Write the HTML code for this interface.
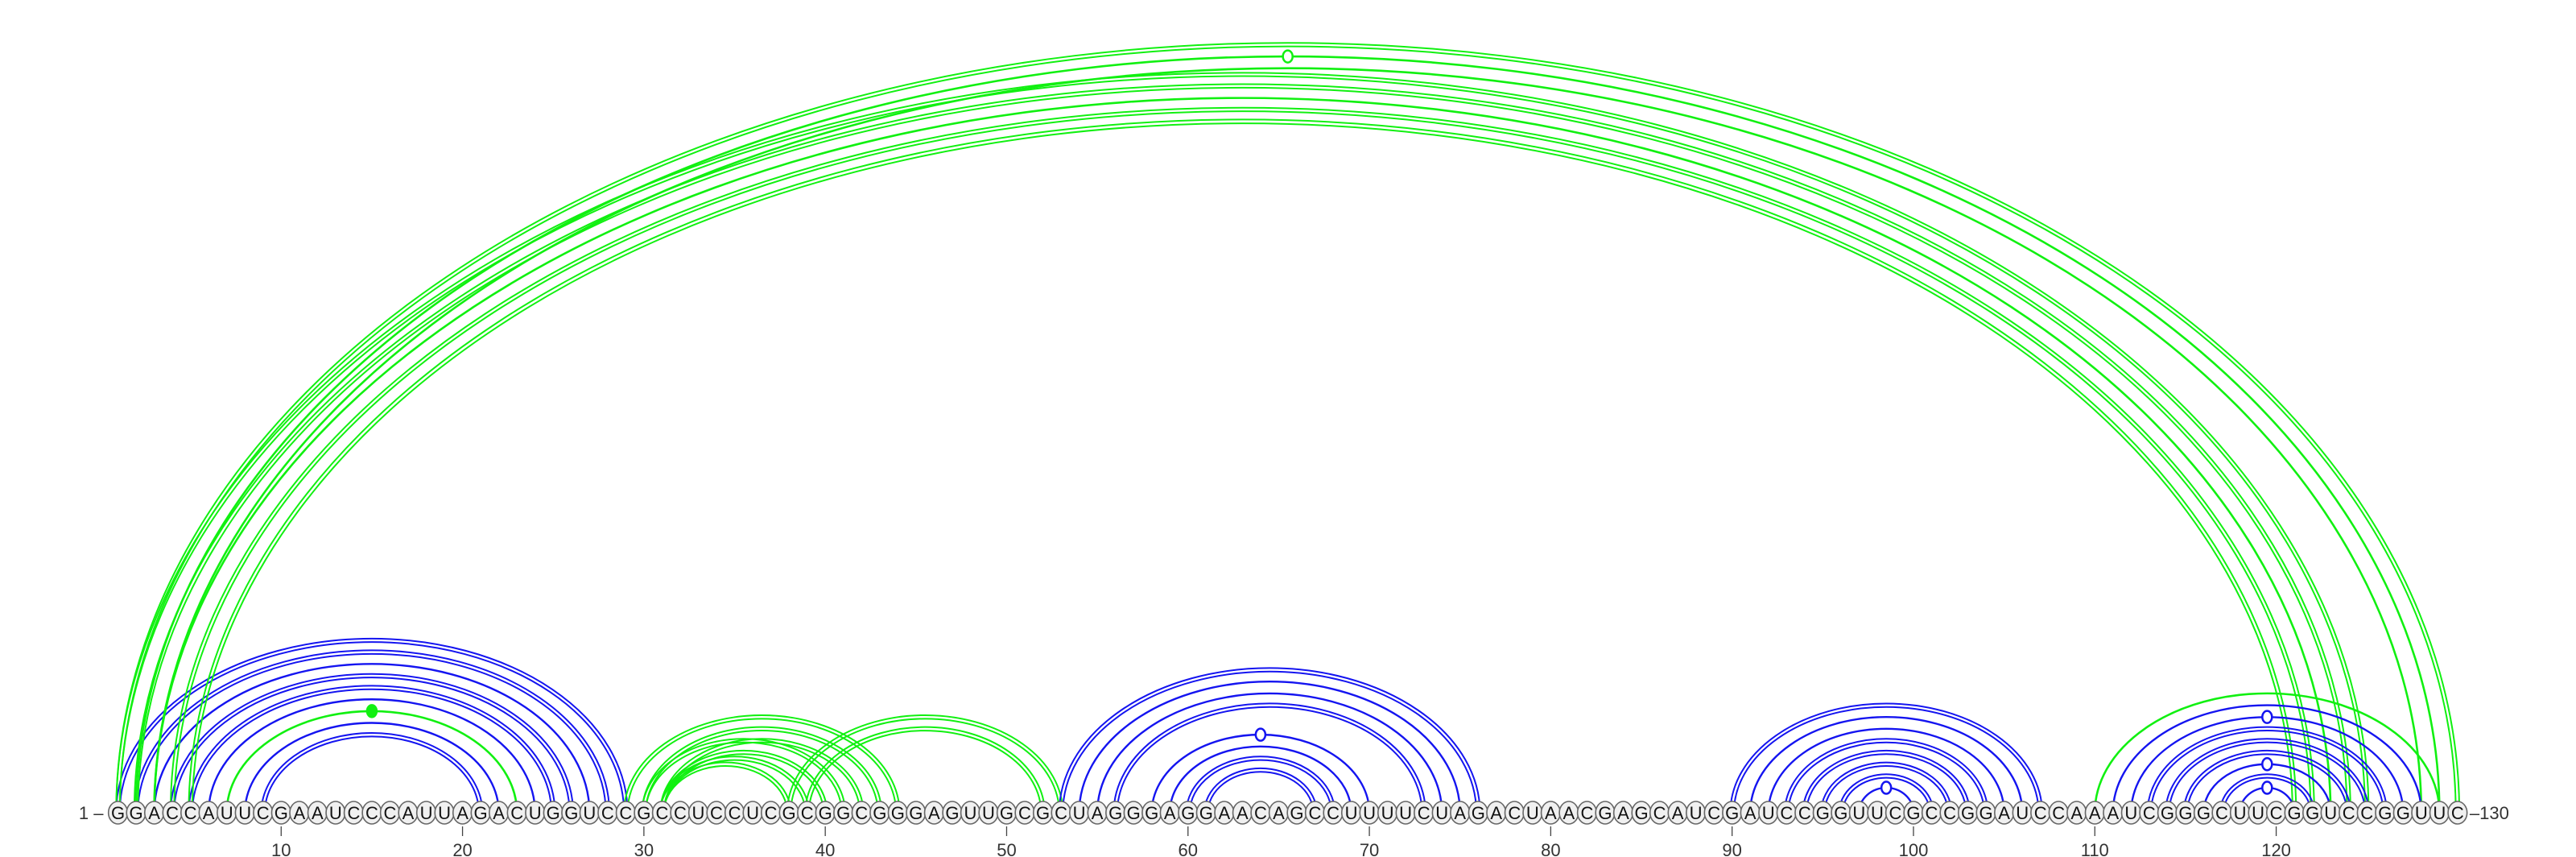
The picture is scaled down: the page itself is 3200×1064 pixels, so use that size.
<!DOCTYPE html>
<html>
<head>
<meta charset="utf-8">
<style>
  html,body{margin:0;padding:0;background:#fff;}
  svg{display:block;}
  text{font-family:"Liberation Sans",sans-serif;}
</style>
</head>
<body>
<svg id="chart" width="3200" height="1064" viewBox="0 0 3200 1064" xmlns="http://www.w3.org/2000/svg">
  <g id="arcs"></g>
  <g id="residues"></g>
  <g id="axis"></g>
</svg>
<script>
const sequence = "GGACCAUUCGAAUCCCAUUAGACUGGUCCGCCUCCUCGCGGCGGGAGUUGCGCUAGGGAGGAACAGCCUUUUCUAGACUAACGAGCAUCGAUCCGGUUCGCCGGAUCCAAAUCGGGCUUCGGUCCGGUUC";
// base pairs: i, j, color (b=blue, g=green), doubled line, marker (0 none,1 open,2 filled)
const pairI   = [1,2,3,4,5,6,7,8,9, 1,2,3,1,2,3,4,5, 29,30,31,30,31,31,31,38,39, 53,54,55,56,58,59,60,61, 90,91,92,93,94,95,96,97, 111,112,113,114,115,116,117,118, 110];
const pairJ   = [29,28,27,26,25,24,23,22,21, 130,129,128,125,124,123,122,121, 44,43,42,41,40,39,38,53,52, 76,75,74,73,70,69,68,67, 107,106,105,104,103,102,101,100, 128,127,126,125,124,123,122,121, 129];
const pairCol = ["b","b","b","b","b","b","g","b","b", "g","g","g","g","g","g","g","g", "g","g","g","g","g","g","g","g","g", "b","b","b","b","b","b","b","b", "b","b","b","b","b","b","b","b", "b","b","b","b","b","b","b","b", "g"];
const pairDbl = [1,1,0,1,1,0,0,0,1, 1,0,0,1,1,0,1,1, 1,1,1,1,1,1,1,1,1, 1,0,0,1,0,0,1,1, 1,0,0,1,1,1,1,0, 0,0,1,1,1,0,1,0, 0];
const pairMark= [0,0,0,0,0,0,2,0,0, 0,1,0,0,0,0,0,0, 0,0,0,0,0,0,0,0,0, 0,0,0,0,1,0,0,0, 0,0,0,0,0,0,0,1, 0,1,0,0,0,1,0,1, 0];
const tickValues = [10,20,30,40,50,60,70,80,90,100,110,120];

const X0 = 146.5, STEP = 22.53, BASE = 1009;
function xPos(i){ return X0 + (i-1)*STEP; }
function arcH(r){ return 0.65*r + 9; }
const COLORS = {b:"#1414f0", g:"#11f011"};
const NS = "http://www.w3.org/2000/svg";
const arcs = document.getElementById("arcs");
const res = document.getElementById("residues");
const axis = document.getElementById("axis");

function arcPath(x1,x2,rx,ry){
  return `M${x1},${BASE} A${rx},${ry} 0 0 1 ${x2},${BASE}`;
}

for (let k=0;k<pairI.length;k++){
  const x1 = xPos(pairI[k]), x2 = xPos(pairJ[k]);
  const r = (x2-x1)/2, h = arcH(r);
  const col = COLORS[pairCol[k]];
  const offs = pairDbl[k] ? [-2.2,2.2] : [0];
  for (const o of offs){
    const p = document.createElementNS(NS,"path");
    p.setAttribute("d", arcPath(x1-o, x2+o, r+o, h+o));
    p.setAttribute("fill","none");
    p.setAttribute("stroke",col);
    p.setAttribute("stroke-width", pairDbl[k] ? "2" : (pairCol[k]==="g" ? "2.6" : "2.4"));
    
    
    arcs.appendChild(p);
  }
  if (pairMark[k]){
    const cx = (x1+x2)/2, cy = BASE - h - (pairDbl[k]?2.2:0);
    const m = document.createElementNS(NS,"ellipse");
    m.setAttribute("cx",cx); m.setAttribute("cy",cy);
    m.setAttribute("rx",6); m.setAttribute("ry",7.5);
    m.setAttribute("fill", pairMark[k]===2 ? col : "#fff");
    m.setAttribute("stroke",col); m.setAttribute("stroke-width","2.5");
    
    
    arcs.appendChild(m);
  }
}

for (let i=1;i<=sequence.length;i++){
  const x = xPos(i);
  const c = document.createElementNS(NS,"ellipse");
  c.setAttribute("cx",x); c.setAttribute("cy",BASE);
  c.setAttribute("rx",11.8); c.setAttribute("ry",14);
  c.setAttribute("fill","#f0f0f0"); c.setAttribute("stroke","#666"); c.setAttribute("stroke-width","1.6");
  
  
  res.appendChild(c);
  const t = document.createElementNS(NS,"text");
  t.setAttribute("x",x); t.setAttribute("y",BASE+8);
  t.setAttribute("text-anchor","middle");
  t.setAttribute("font-size","22");
  t.setAttribute("fill","#111");
  t.textContent = sequence[i-1];
  
  
  res.appendChild(t);
}

for (const v of tickValues){
  const x = xPos(v);
  const l = document.createElementNS(NS,"line");
  l.setAttribute("x1",x); l.setAttribute("x2",x);
  l.setAttribute("y1",1026); l.setAttribute("y2",1038);
  l.setAttribute("stroke","#444"); l.setAttribute("stroke-width","1.3");
  
  
  axis.appendChild(l);
  const t = document.createElementNS(NS,"text");
  t.setAttribute("x",x); t.setAttribute("y",1063);
  t.setAttribute("text-anchor","middle");
  t.setAttribute("font-size","22");
  t.setAttribute("fill","#333");
  t.textContent = v;
  
  
  axis.appendChild(t);
}

const startLbl = document.createElementNS(NS,"text");
startLbl.setAttribute("x",xPos(1)-18); startLbl.setAttribute("y",BASE+8);
startLbl.setAttribute("text-anchor","end"); startLbl.setAttribute("font-size","22"); startLbl.setAttribute("fill","#333");
startLbl.textContent = "1 \u2013";


axis.appendChild(startLbl);

const endLbl = document.createElementNS(NS,"text");
endLbl.setAttribute("x",xPos(sequence.length)+15); endLbl.setAttribute("y",BASE+8);
endLbl.setAttribute("text-anchor","start"); endLbl.setAttribute("font-size","22"); endLbl.setAttribute("fill","#333");
endLbl.textContent = "\u2013" + sequence.length;


axis.appendChild(endLbl);
</script>
</body>
</html>
